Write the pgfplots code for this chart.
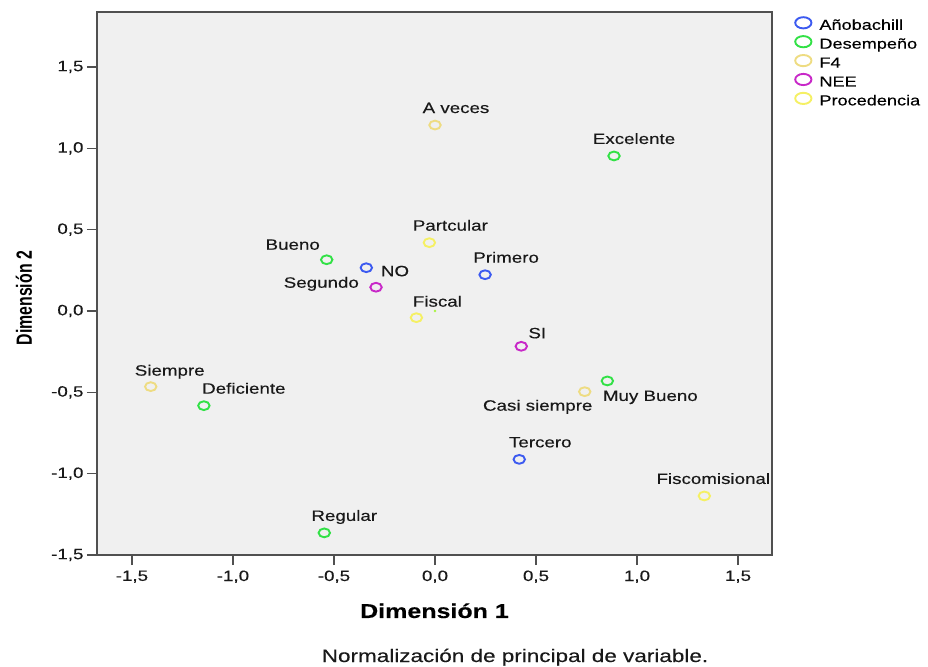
\documentclass[border=0pt]{standalone}
\usepackage{pgfplots}
\pgfplotsset{compat=1.18}
\usepackage{pgfplotstable}
\usepackage{fontspec}
\setmainfont{Liberation Sans}[FakeStretch=1.25, FakeBold=0.25]
\newfontfamily\ylabfont{Liberation Sans}[FakeStretch=0.72]

\definecolor{bgc}{RGB}{240,240,240}
\definecolor{framec}{RGB}{80,80,80}
\definecolor{labc}{RGB}{25,25,25}
\definecolor{cAno}{RGB}{60,90,240}
\definecolor{cDes}{RGB}{50,225,70}
\definecolor{cF4}{RGB}{238,220,130}
\definecolor{cNEE}{RGB}{200,40,200}
\definecolor{cPro}{RGB}{245,240,100}

% x, y, label offset (pt), label
\pgfplotstableread[col sep=comma]{
x,y,dx,dy,label
0.248,0.223,21,12,Primero
-0.340,0.266,-45,-20,Segundo
0.417,-0.912,21,12,Tercero
}\tAno
\pgfplotstableread[col sep=comma]{
x,y,dx,dy,label
0.886,0.953,20,12,Excelente
-0.536,0.315,-34,10,Bueno
0.853,-0.430,43,-20,Muy Bueno
-1.144,-0.582,40,12,Deficiente
-0.548,-1.364,20,12,Regular
}\tDes
\pgfplotstableread[col sep=comma]{
x,y,dx,dy,label
0.000,1.143,21,12,A veces
0.741,-0.496,-47,-19,Casi siempre
-1.407,-0.465,19,11,Siempre
}\tFcuatro
\pgfplotstableread[col sep=comma]{
x,y,dx,dy,label
-0.292,0.146,19,11,NO
0.427,-0.217,16,8,SI
}\tNEE
\pgfplotstableread[col sep=comma]{
x,y,dx,dy,label
-0.028,0.420,21,12,Partcular
-0.092,-0.041,21,11,Fiscal
1.333,-1.137,9,12,Fiscomisional
}\tPro

\pgfplotsset{
  catpt/.style={
    only marks, mark=o, color=#1, mark size=4.4pt,
    mark options={line width=1.9pt, xscale=1.3},
    nodes near coords, point meta=explicit symbolic,
    visualization depends on={\thisrow{dx}\as\dx},
    visualization depends on={\thisrow{dy}\as\dy},
    nodes near coords style={anchor=base, xshift=\dx, yshift=\dy,
      font=\fontsize{15}{18}\selectfont, text=labc, inner sep=0pt},
  },
}

\begin{document}
\begin{tikzpicture}
\useasboundingbox (0,0) rectangle (928pt,666pt);
\begin{axis}[
  at={(97pt,111pt)}, anchor=south west,
  scale only axis, width=675pt, height=543pt,
  xmin=-1.673, xmax=1.668, ymin=-1.5, ymax=1.838,
  xtick={-1.5,-1.0,-0.5,0,0.5,1.0,1.5},
  ytick={-1.5,-1.0,-0.5,0,0.5,1.0,1.5},
  xtick pos=left, ytick pos=left,
  tick align=outside, major tick length=10pt,
  axis background/.style={fill=bgc},
  axis line style={draw=framec, line width=1.6pt},
  tick style={draw=framec, line width=1.6pt},
  ticklabel style={font=\fontsize{15}{18}\selectfont, text=labc},
  x tick label style={yshift=-2pt},
  /pgf/number format/.cd, use comma, fixed, fixed zerofill, precision=1,
    assume math mode=true,
  /pgfplots/.cd,
  xlabel={Dimensión 1},
  xlabel style={at={(axis description cs:0.5,-0.116)}, anchor=base,
    font=\bfseries\fontsize{20}{24}\selectfont},
  ylabel={Dimensión 2},
  ylabel style={at={(axis description cs:-0.0963,0.473)}, anchor=base,
    font=\ylabfont\bfseries\fontsize{22}{26}\selectfont},
  legend style={at={(axis description cs:1,1)}, anchor=north west,
    xshift=23pt, yshift=-5pt, draw=none, fill=none,
    inner sep=0pt, column sep=8pt, row sep=3.3pt,
    nodes={inner sep=0pt, text height=11pt, text depth=3pt},
    font=\fontsize{14.5}{17}\selectfont},
  legend cell align=left,
  legend image code/.code={
    \draw[#1] plot[mark size=5.6pt, mark options={line width=1.9pt, xscale=1.45}]
      coordinates {(0pt,3pt)};},
]
\addplot[catpt=cAno] table[x=x, y=y, meta=label] {\tAno};
\addlegendentry{Añobachill}
\addplot[catpt=cDes] table[x=x, y=y, meta=label] {\tDes};
\addlegendentry{Desempeño}
\addplot[catpt=cF4] table[x=x, y=y, meta=label] {\tFcuatro};
\addlegendentry{F4}
\addplot[catpt=cNEE] table[x=x, y=y, meta=label] {\tNEE};
\addlegendentry{NEE}
\addplot[catpt=cPro] table[x=x, y=y, meta=label] {\tPro};
\addlegendentry{Procedencia}
% centroid dot
\addplot[only marks, mark=*, mark size=1pt, color=cPro!70!green, forget plot]
  coordinates {(0,0)};
\end{axis}
\node[anchor=base, font=\fontsize{18}{21}\selectfont, text=labc]
  at (515pt,4pt) {Normalización de principal de variable.};
\end{tikzpicture}
\end{document}
